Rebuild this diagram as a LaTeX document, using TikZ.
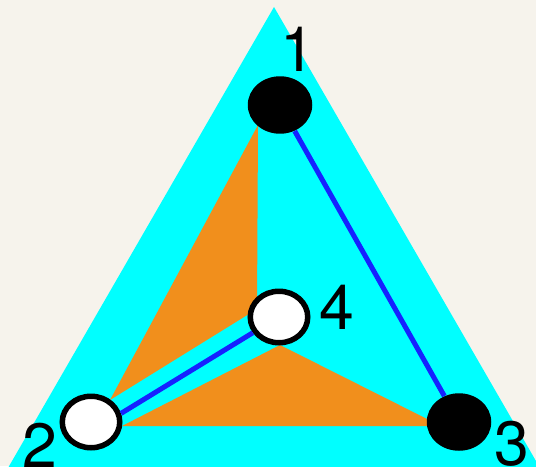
\documentclass[tikz,border=0pt]{standalone}
\usepackage{fontspec}
\setmainfont{TeX Gyre Heros}
\usetikzlibrary{calc,shapes.geometric,positioning}
\definecolor{paperbeige}{RGB}{246,243,236}
\definecolor{facecyan}{RGB}{0,255,255}
\definecolor{faceorange}{RGB}{241,143,28}
\definecolor{edgeblue}{RGB}{22,34,255}

\begin{document}
\begin{tikzpicture}[x=0.02cm, y=-0.02cm,
    vlabel/.style={inner sep=0pt, font=\fontsize{35.6}{40}\selectfont},
    blackvtx/.style={ellipse, fill=black, inner sep=0pt, minimum width=1.29cm, minimum height=1.15cm},
    whitevtx/.style={ellipse, draw=black, fill=white, line width=0.11cm, inner sep=0pt, minimum width=1.15cm, minimum height=1.03cm},
    bluedge/.style={edgeblue, line width=0.1cm}]
  \clip (0,0) rectangle (536,466);
  \fill[paperbeige] (0,0) rectangle (536,466);
  % outer face
  \fill[facecyan] (274,7) -- (8,468) -- (540,468) -- cycle;
  % orange faces
  \fill[faceorange] (258,125) -- (257,309) -- (110,400) -- cycle;
  \fill[faceorange] (280,345) -- (122,426) -- (441,426) -- cycle;
  % vertices
  \node[blackvtx] (n1) at (280,105) {};
  \node[whitevtx] (n4) at (279,317) {};
  \node[whitevtx] (n2) at (91,422) {};
  \node[blackvtx] (n3) at (459,422) {};
  % edges
  \draw[bluedge] (n1) -- (n3);
  \draw[bluedge] (n2.16) -- (n4.211);
  % labels
  \node[vlabel] (l1) at (298,49) {1};
  \node[vlabel] (l4) at (337,307) {4};
  \node[vlabel] (l2) at (40,445) {2};
  \node[vlabel] (l3) at (512,444) {3};
\end{tikzpicture}
\end{document}
